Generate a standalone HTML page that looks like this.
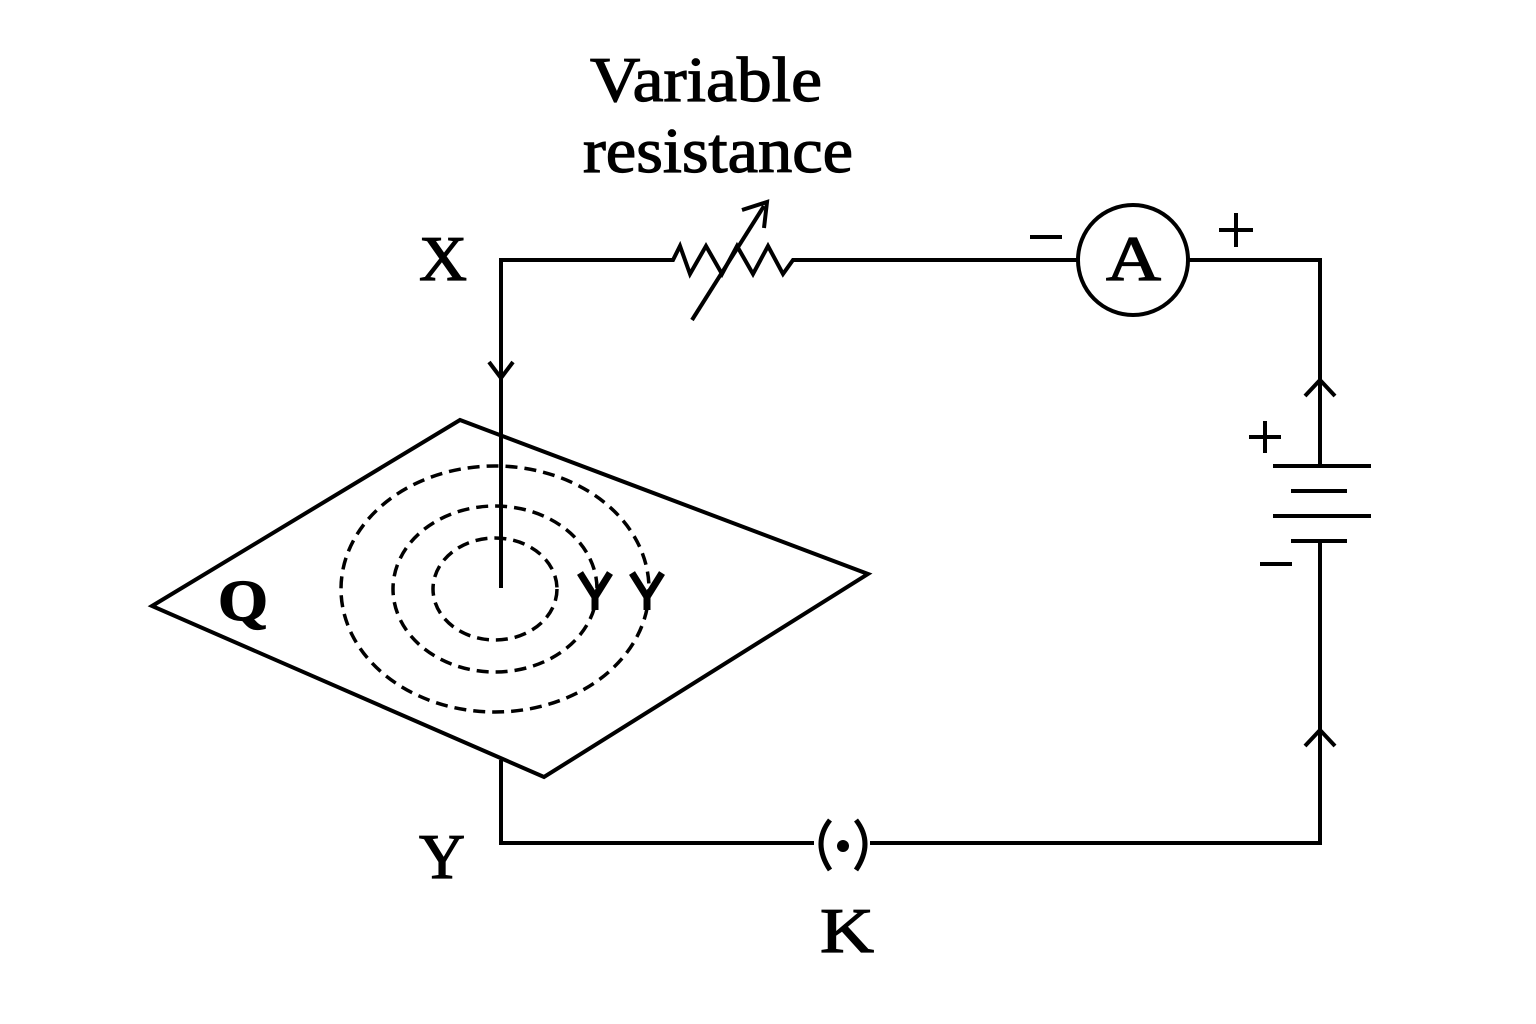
<!DOCTYPE html>
<html><head><style>body{margin:0;background:#fff}svg{display:block}</style></head>
<body>
<svg width="1536" height="1024" viewBox="0 0 1536 1024" xmlns="http://www.w3.org/2000/svg" font-family="'Liberation Serif', serif">
<rect width="1536" height="1024" fill="#fff"/>
<g fill="none" stroke="#000" stroke-width="4" stroke-linejoin="miter">
<polyline points="501,588 501,260 665,260"/>
<polyline points="665,260 673,260 680,246 690,274 706,246 722,274 737,246 753,274 768,246 783,274 793,260 1078,260"/>
<line x1="692" y1="320" x2="764" y2="206"/>
<polyline points="742,210 767,202 764,228"/>
<polyline points="1188,260 1320,260 1320,466"/>
<circle cx="1133" cy="260" r="55"/>
<line x1="1273" y1="466" x2="1371" y2="466"/>
<line x1="1291" y1="491" x2="1347" y2="491"/>
<line x1="1273" y1="516" x2="1371" y2="516"/>
<line x1="1291" y1="541" x2="1347" y2="541"/>
<polyline points="1320,541 1320,843 870,843"/>
<polyline points="814,843 501,843 501,760"/>
<polyline points="489,362 501,378 513,362"/>
<polyline points="1305,396 1320,380 1335,396"/>
<polyline points="1305,746 1320,730 1335,746"/>
<polygon points="152,606 460,420 868,574 544,777"/>
</g>
<g fill="none" stroke="#000" stroke-width="5">
<path d="M830,820 Q812,843 830,870"/>
<path d="M856,820 Q874,843 856,870"/>
</g>
<circle cx="843" cy="846" r="6" fill="#000"/>
<g fill="none" stroke="#000" stroke-width="3.5" stroke-dasharray="12,7">
<ellipse cx="495" cy="589" rx="62" ry="51"/>
<ellipse cx="495" cy="589" rx="102" ry="83"/>
<ellipse cx="495" cy="589" rx="154" ry="123"/>
</g>
<g fill="#000" stroke="#000" stroke-width="1.2" font-size="64">
<text x="419" y="280" textLength="48" lengthAdjust="spacingAndGlyphs">X</text>
<text x="419" y="878" textLength="46" lengthAdjust="spacingAndGlyphs">Y</text>
<text x="820" y="952" textLength="54" lengthAdjust="spacingAndGlyphs">K</text>
<text x="218" y="620" font-weight="bold" font-size="58" textLength="50" lengthAdjust="spacingAndGlyphs">Q</text>
<text x="1106" y="280" textLength="55" lengthAdjust="spacingAndGlyphs">A</text>
<text x="590" y="101" textLength="232" lengthAdjust="spacingAndGlyphs">Variable</text>
<text x="583" y="172" textLength="270" lengthAdjust="spacingAndGlyphs">resistance</text>
</g>
<g fill="none" stroke="#000" stroke-width="7">
<polyline points="580,573 595,597 610,573"/><line x1="595" y1="596" x2="595" y2="610"/>
<polyline points="632,573 647,597 662,573"/><line x1="647" y1="596" x2="647" y2="610"/>
</g>
<g stroke="#000" stroke-width="4">
<line x1="1030" y1="237" x2="1062" y2="237"/>
<line x1="1219" y1="230" x2="1253" y2="230"/><line x1="1236" y1="213" x2="1236" y2="247"/>
<line x1="1249" y1="437" x2="1281" y2="437"/><line x1="1265" y1="421" x2="1265" y2="453"/>
<line x1="1260" y1="564" x2="1292" y2="564"/>
</g>
</svg>
</body></html>
